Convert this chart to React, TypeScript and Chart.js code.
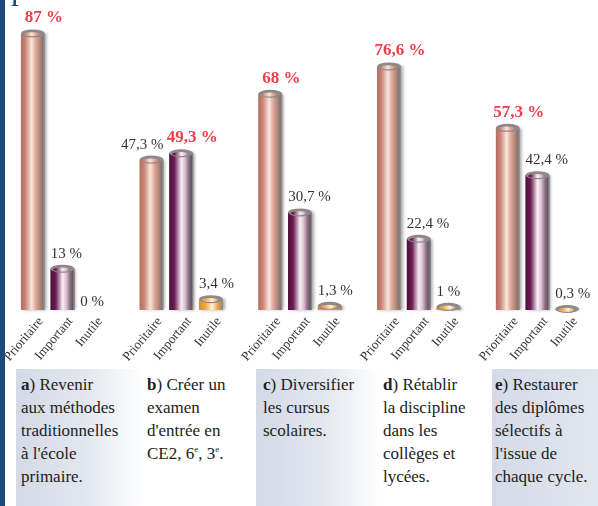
import React, { useEffect, useRef } from "react";
import { Chart, registerables } from "chart.js";

Chart.register(...registerables);

const barLabels = ["Prioritaire", "Important", "Inutile"];
const prioritaire = [87, 47.3, 68, 76.6, 57.3];
const important = [13, 49.3, 30.7, 22.4, 42.4];
const inutile = [0, 3.4, 1.3, 1, 0.3];
const yMax = 97.5;

const labels: string[] = [];
const values: (number | null)[] = [];
const kinds: number[] = [];
for (let g = 0; g < prioritaire.length; g++) {
  const vals = [prioritaire[g], important[g], inutile[g]];
  vals.forEach((v, k) => {
    labels.push(barLabels[k]);
    values.push(v);
    kinds.push(k);
  });
  if (g < prioritaire.length - 1) {
    labels.push("");
    values.push(null);
    kinds.push(-1);
  }
}

const flatColors = ["#c98576", "#6e1f55", "#e8a040"];
const bodyStops: [number, string][][] = [
  [[0, "#b36e60"], [0.18, "#c98475"], [0.45, "#f8e6dc"], [0.62, "#dfa999"], [0.8, "#b38679"], [0.92, "#807674"], [1, "#9b9999"]],
  [[0, "#4e0c38"], [0.22, "#6e1f55"], [0.5, "#f8eff5"], [0.66, "#d9c0d1"], [0.82, "#8c6c82"], [0.93, "#615b60"], [1, "#9b9999"]],
  [[0, "#d58a2c"], [0.3, "#efb052"], [0.55, "#fff3da"], [0.8, "#e0a14a"], [1, "#8c8a88"]],
];

const fmt = (v: number) => String(v).replace(".", ",") + " %";
const SERIF = "'Liberation Serif', 'DejaVu Serif', 'Times New Roman', serif";

const cylinderPlugin = {
  id: "cylinders",
  afterDatasetsDraw(chart: any) {
    const ctx: CanvasRenderingContext2D = chart.ctx;
    const meta = chart.getDatasetMeta(0);
    const items: any[] = [];
    meta.data.forEach((el: any, i: number) => {
      const v = values[i];
      if (v == null) return;
      const k = kinds[i];
      const { x, y, base, width } = el.getProps(["x", "y", "base", "width"], true);
      const left = x - width / 2;
      const h = base - y;
      const g = ctx.createLinearGradient(left, 0, left + width, 0);
      bodyStops[k].forEach(([o, c]) => g.addColorStop(o, c));
      ctx.save();
      if (h > 0.3) {
        ctx.shadowColor = "rgba(60,60,60,0.45)";
        ctx.shadowBlur = 3;
        ctx.shadowOffsetX = 2;
        ctx.fillStyle = g;
        ctx.fillRect(left, y, width, h);
      }
      ctx.restore();
      if (v > 0) {
        ctx.save();
        ctx.beginPath();
        ctx.ellipse(x, y, width / 2, 4, 0, 0, Math.PI * 2);
        ctx.fillStyle = "#8f8888";
        ctx.fill();
        ctx.beginPath();
        ctx.ellipse(x - 1, y + 0.8, width / 2 - 3.5, 2, 0, 0, Math.PI * 2);
        ctx.fillStyle = g;
        ctx.fill();
        ctx.restore();
      }
      items.push({ i, v, k, x, y, left, right: left + width, group: Math.floor(i / 4) });
    });

    items.forEach((it) => {
      const grp = items.filter((o) => o.group === it.group);
      const max = Math.max(...grp.map((o) => o.v));
      it.red = it.v === max;
      it.font = it.red ? `bold 17px ${SERIF}` : `15px ${SERIF}`;
      it.text = fmt(it.v);
      ctx.font = it.font;
      it.w = ctx.measureText(it.text).width;
      it.baseY = it.v > 0 ? it.y - 11 : it.y - 4;
      it.tx = it.red ? it.x + 11 - it.w / 2 : it.left;
      it.h = it.red ? 13 : 11;
    });
    items.forEach((it, n) => {
      const nx = items[n + 1];
      if (nx && nx.group === it.group) {
        const hOverlap = it.tx + it.w > nx.tx;
        const vOverlap = Math.abs(it.baseY - nx.baseY) < Math.max(it.h, nx.h) + 2;
        if (hOverlap && vOverlap) it.tx = it.right - it.w;
      }
    });
    ctx.save();
    ctx.textAlign = "left";
    ctx.textBaseline = "alphabetic";
    items.forEach((it) => {
      ctx.font = it.font;
      ctx.fillStyle = it.red ? "#ea3f4c" : "#333333";
      ctx.fillText(it.text, it.tx, it.baseY);
    });
    ctx.restore();
  },
};

const boxes = [
  {
    left: 16, width: 128, pad: 5,
    bg: "linear-gradient(to right, #d3d9e6 0%, #e3e7ef 55%, #ffffff 100%)",
    letter: "a", lines: [") Revenir", "aux méthodes", "traditionnelles", "à l'école", "primaire."],
  },
  { left: 144, width: 112, pad: 3, bg: "transparent", letter: "b", lines: [") Créer un", "examen", "d'entrée en", "CE2_"] },
  {
    left: 256, width: 124, pad: 7,
    bg: "linear-gradient(to right, #d3d9e6 0%, #e3e7ef 55%, #ffffff 100%)",
    letter: "c", lines: [") Diversifier", "les cursus", "scolaires."],
  },
  { left: 380, width: 112, pad: 3, bg: "transparent", letter: "d", lines: [") Rétablir", "la discipline", "dans les", "collèges et", "lycées."] },
  {
    left: 492, width: 106, pad: 3,
    bg: "linear-gradient(to right, #d4dae7 0%, #e2e6ee 100%)",
    letter: "e", lines: [") Restaurer", "des diplômes", "sélectifs à", "l'issue de", "chaque cycle."],
  },
];

const supStyle: React.CSSProperties = { fontSize: 9, verticalAlign: "7px", lineHeight: 0 };

export default function App() {
  const ref = useRef<HTMLCanvasElement>(null);
  useEffect(() => {
    const chart = new Chart(ref.current as HTMLCanvasElement, {
      type: "bar",
      data: {
        labels,
        datasets: [
          {
            data: values as any,
            backgroundColor: kinds.map((k) => (k >= 0 ? flatColors[k] : "transparent")),
            barPercentage: 0.8,
            categoryPercentage: 1,
          },
        ],
      },
      options: {
        animation: false,
        responsive: false,
        layout: { padding: { left: 18, right: 16, top: 0, bottom: 0 } },
        plugins: { legend: { display: false }, tooltip: { enabled: false } },
        scales: {
          x: {
            grid: { display: false, drawTicks: false },
            border: { display: false },
            ticks: {
              autoSkip: false,
              minRotation: 50,
              maxRotation: 50,
              labelOffset: 8,
              padding: 4,
              color: "#333333",
              font: { family: SERIF, size: 13 },
            },
            afterFit: (s: any) => {
              s.height = 58;
              s.paddingLeft = 0;
              s.paddingRight = 0;
            },
          } as any,
          y: { display: false, min: 0, max: yMax },
        },
      },
      plugins: [cylinderPlugin],
    });
    return () => chart.destroy();
  }, []);

  return (
    <div
      style={{
        position: "fixed", left: 0, top: 0, width: 598, height: 506,
        background: "#ffffff", overflow: "hidden", fontFamily: SERIF,
      }}
    >
      <div style={{ position: "absolute", left: 0, top: 0, width: 598, height: 368 }}>
        <canvas ref={ref} width={598} height={368} style={{ display: "block" }} />
      </div>
      <div
        style={{
          position: "absolute", left: 11, top: -28, fontSize: 32, lineHeight: "32px",
          color: "#1d4a7e",
        }}
      >
        p
      </div>
      <div style={{ position: "absolute", left: 0, top: 0, width: 5, height: 506, background: "#1d4a7e" }} />
      {boxes.map((b) => (
        <div
          key={b.letter}
          style={{
            position: "absolute", left: b.left, top: 369, width: b.width, height: 137,
            background: b.bg, paddingLeft: b.pad, paddingTop: 4, boxSizing: "border-box",
            fontSize: 17, lineHeight: "23px", color: "#222222", whiteSpace: "nowrap",
          }}
        >
          {b.lines.map((ln, n) => (
            <div key={n}>
              {n === 0 ? <b>{b.letter}</b> : null}
              {ln === "CE2_" ? (
                <span>
                  CE2, 6<sup style={supStyle}>e</sup>, 3<sup style={supStyle}>e</sup>.
                </span>
              ) : (
                ln
              )}
            </div>
          ))}
        </div>
      ))}
    </div>
  );
}
